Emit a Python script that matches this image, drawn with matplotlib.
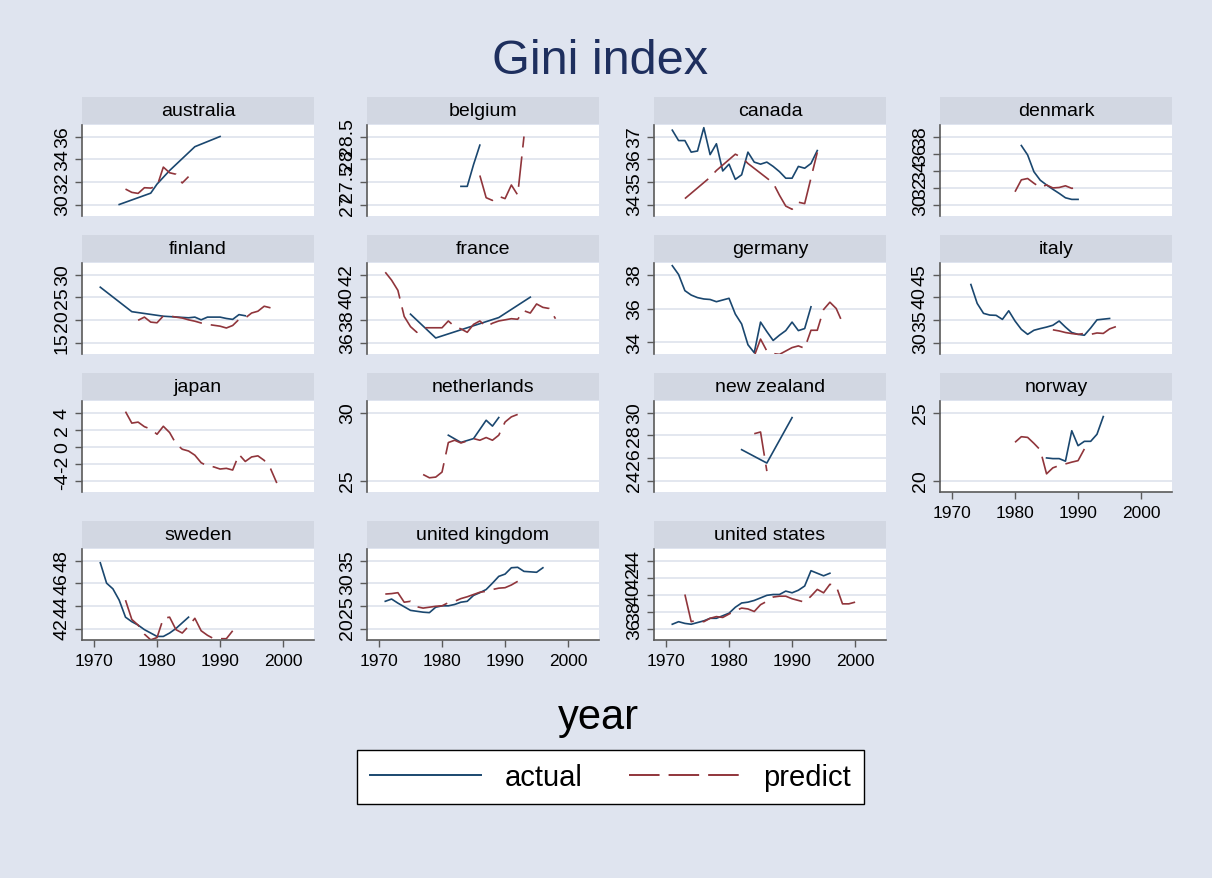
import matplotlib
matplotlib.use('Agg')
import matplotlib.pyplot as plt
from matplotlib.lines import Line2D

plt.rcParams['font.family'] = ['Liberation Sans', 'DejaVu Sans']
plt.rcParams['lines.scale_dashes'] = False

# ---------------- data ----------------
countries = ['australia', 'belgium', 'canada', 'denmark',
             'finland', 'france', 'germany', 'italy',
             'japan', 'netherlands', 'new zealand', 'norway',
             'sweden', 'united kingdom', 'united states']

australia_act_years = [1974, 1979, 1980, 1982, 1986, 1990]
australia_act = [30.0, 31.0, 31.8, 33.0, 35.1, 36.0]
australia_pre_years = [1975, 1976, 1977, 1978, 1979, 1980, 1981, 1982, 1983, 1984, 1985]
australia_pre = [31.36, 31.07, 30.98, 31.48, 31.45, 31.6, 33.3, 32.8, 32.67, 31.9, 32.46]

belgium_act_years = [1983, 1984, 1985, 1986]
belgium_act = [27.4, 27.4, 27.88, 28.31]
belgium_pre_years = [1986, 1987, 1988, 1989, 1990, 1991, 1992, 1993]
belgium_pre = [27.64, 27.15, 27.09, 27.18, 27.13, 27.43, 27.21, 28.5]

canada_act_years = list(range(1971, 1995))
canada_act = [37.28, 36.82, 36.82, 36.31, 36.36, 37.39, 36.2, 36.68, 35.48, 35.78,
              35.11, 35.31, 36.31, 35.87, 35.78, 35.87, 35.68, 35.45, 35.16, 35.16,
              35.68, 35.6, 35.81, 36.38]
canada_pre_years = [1973, 1977, 1978, 1981, 1982, 1983, 1987, 1988, 1989, 1990, 1991, 1992, 1994]
canada_pre = [34.26, 35.2, 35.5, 36.22, 36.08, 35.81, 34.95, 34.41, 33.93, 33.79, 34.1, 34.04, 36.3]

denmark_act_years = list(range(1981, 1991))
denmark_act = [36.94, 35.83, 33.85, 32.86, 32.3, 31.79, 31.31, 30.79, 30.6, 30.6]
denmark_pre_years = list(range(1980, 1991))
denmark_pre = [31.5, 32.9, 33.06, 32.5, 32.0, 32.3, 31.95, 32.0, 32.2, 31.9, 32.0]

finland_act_years = [1971, 1976, 1981, 1985, 1986, 1987, 1988, 1990, 1991, 1992, 1993, 1994]
finland_act = [27.2, 21.8, 20.8, 20.45, 20.6, 20.0, 20.6, 20.6, 20.3, 20.1, 21.15, 20.9]
finland_pre_years = list(range(1977, 1999))
finland_pre = [19.9, 20.6, 19.5, 19.35, 20.86, 20.86, 20.6, 20.4, 20.0, 19.7, 19.3, 19.0,
               18.8, 18.6, 18.2, 18.75, 20.1, 20.4, 21.5, 21.9, 23.0, 22.65]

france_act_years = [1975, 1979, 1989, 1994]
france_act = [38.5, 36.4, 38.2, 40.0]
france_pre_years = list(range(1971, 1999))
france_pre = [42.2, 41.5, 40.6, 38.3, 37.4, 36.9, 37.3, 37.3, 37.3, 37.3, 37.9, 37.4, 37.2,
              36.9, 37.6, 37.9, 37.4, 37.7, 37.9, 38.0, 38.1, 38.05, 38.8, 38.6, 39.4,
              39.1, 39.0, 38.1]

germany_act_years = list(range(1971, 1994))
germany_act = [38.52, 38.0, 37.05, 36.79, 36.64, 36.56, 36.53, 36.4, 36.5, 36.6, 35.67,
               35.09, 33.87, 33.4, 35.2, 34.64, 34.12, 34.43, 34.7, 35.2, 34.7, 34.82, 36.1]
germany_pre_years = list(range(1984, 1999))
germany_pre = [33.2, 34.2, 33.5, 33.35, 33.3, 33.5, 33.7, 33.8, 33.66, 34.72, 34.72,
               35.94, 36.37, 36.0, 35.16]

italy_act_years = list(range(1973, 1994)) + [1995]
italy_act = [42.79, 38.62, 36.43, 36.05, 35.99, 35.1, 37.0, 34.74, 32.9, 31.8, 32.7,
             33.07, 33.4, 33.8, 34.74, 33.4, 32.2, 31.8, 31.6, 33.2, 35.0, 35.3]
italy_pre_years = list(range(1986, 1997))
italy_pre = [32.8, 32.55, 32.2, 31.97, 31.8, 32.0, 31.8, 32.1, 32.0, 33.0, 33.5]

japan_act_years = []
japan_act = []
japan_pre_years = list(range(1975, 2000))
japan_pre = [4.1, 2.75, 2.87, 2.33, 2.05, 1.44, 2.38, 1.64, 0.33, -0.32, -0.53, -1.02,
             -1.91, -2.3, -2.4, -2.65, -2.57, -2.77, -0.93, -1.76, -1.23, -1.1, -1.63,
             -2.6, -4.3]

netherlands_act_years = [1981, 1983, 1985, 1987, 1988, 1989]
netherlands_act = [28.33, 27.8, 28.08, 29.43, 29.0, 29.63]
netherlands_pre_years = list(range(1977, 1993))
netherlands_pre = [25.44, 25.2, 25.25, 25.62, 27.79, 27.96, 27.76, 27.91, 28.08, 27.96,
                   28.16, 27.96, 28.33, 29.3, 29.68, 29.86]

newzealand_act_years = [1982, 1986, 1990]
newzealand_act = [26.72, 25.54, 29.55]
newzealand_pre_years = [1984, 1985, 1986]
newzealand_pre = [28.13, 28.28, 24.83]

norway_act_years = list(range(1985, 1995))
norway_act = [21.66, 21.61, 21.61, 21.42, 23.66, 22.56, 22.88, 22.88, 23.4, 24.7]
norway_pre_years = list(range(1980, 1992))
norway_pre = [22.81, 23.22, 23.17, 22.73, 22.25, 20.49, 20.93, 21.1, 21.22, 21.35, 21.46, 22.32]

sweden_act_years = list(range(1971, 1986))
sweden_act = [47.8, 46.0, 45.5, 44.5, 43.0, 42.6, 42.3, 41.9, 41.6, 41.3, 41.3, 41.6, 42.0,
              42.5, 43.0]
sweden_pre_years = list(range(1975, 1993))
sweden_pre = [44.5, 42.8, 42.3, 41.5, 41.0, 41.2, 42.9, 43.0, 41.9, 41.6, 42.2, 42.9, 41.8,
              41.4, 41.1, 41.1, 41.1, 41.8]

uk_act_years = list(range(1971, 1997))
uk_act = [26.0, 26.5, 25.6, 24.8, 24.0, 23.8, 23.6, 23.5, 24.7, 25.0, 25.0, 25.3, 25.8, 26.0,
          27.3, 27.9, 28.6, 30.0, 31.5, 32.0, 33.4, 33.5, 32.6, 32.5, 32.4, 33.4]
uk_pre_years = list(range(1971, 1993))
uk_pre = [27.6, 27.7, 27.9, 25.8, 26.0, 24.8, 24.5, 24.7, 24.9, 25.0, 25.7, 26.0, 26.6, 27.0,
          27.5, 28.0, 28.2, 28.6, 28.9, 29.0, 29.6, 30.4]

us_act_years = list(range(1971, 1997))
us_act = [36.5, 36.8, 36.6, 36.5, 36.7, 36.9, 37.2, 37.2, 37.5, 37.8, 38.5, 39.0, 39.1, 39.3,
          39.6, 39.9, 40.0, 40.0, 40.4, 40.2, 40.5, 41.0, 42.8, 42.5, 42.2, 42.5]
us_pre_years = list(range(1973, 2001))
us_pre = [40.0, 36.8, 37.0, 36.8, 37.2, 37.4, 37.3, 37.7, 38.1, 38.4, 38.3, 38.0, 38.8, 39.2,
          39.7, 39.8, 39.8, 39.5, 39.3, 39.1, 39.8, 40.6, 40.2, 41.2, 41.0, 38.9, 38.9, 39.1]

act_years = [australia_act_years, belgium_act_years, canada_act_years, denmark_act_years,
             finland_act_years, france_act_years, germany_act_years, italy_act_years,
             japan_act_years, netherlands_act_years, newzealand_act_years, norway_act_years,
             sweden_act_years, uk_act_years, us_act_years]
act_vals = [australia_act, belgium_act, canada_act, denmark_act, finland_act, france_act,
            germany_act, italy_act, japan_act, netherlands_act, newzealand_act, norway_act,
            sweden_act, uk_act, us_act]
pre_years = [australia_pre_years, belgium_pre_years, canada_pre_years, denmark_pre_years,
             finland_pre_years, france_pre_years, germany_pre_years, italy_pre_years,
             japan_pre_years, netherlands_pre_years, newzealand_pre_years, norway_pre_years,
             sweden_pre_years, uk_pre_years, us_pre_years]
pre_vals = [australia_pre, belgium_pre, canada_pre, denmark_pre, finland_pre, france_pre,
            germany_pre, italy_pre, japan_pre, netherlands_pre, newzealand_pre, norway_pre,
            sweden_pre, uk_pre, us_pre]

y_ticks = [[30, 32, 34, 36], [27, 27.5, 28, 28.5], [34, 35, 36, 37], [30, 32, 34, 36, 38],
           [15, 20, 25, 30], [36, 38, 40, 42], [34, 36, 38], [30, 35, 40, 45],
           [-4, -2, 0, 2, 4], [25, 30], [24, 26, 28, 30], [20, 25],
           [42, 44, 46, 48], [20, 25, 30, 35], [36, 38, 40, 42, 44]]
y_ticklabels = [[('%g' % v) for v in t] for t in y_ticks]
x_ticks = [1970, 1980, 1990, 2000]

# ---------------- style ----------------
W, H = 1212, 879
BG = '#dfe4ef'
STRIP = '#d2d7e2'
GRID = '#e1e5ee'
NAVY = '#1a476f'
MAROON = '#90353b'
AXC = '#5a5a5a'

fig = plt.figure(figsize=(W / 100, H / 100), dpi=100)
fig.patch.set_facecolor(BG)

col_left = [82, 367, 654, 940]
row_top = [126, 264, 402, 550]
row_h = [91, 91, 91, 91]
pw, sh = 232, 27
bottom_panels = {11, 12, 13, 14}

for i, name in enumerate(countries):
    r, c = divmod(i, 4)
    L, T, ph = col_left[c], row_top[r], row_h[r]
    ax = fig.add_axes([L / W, 1 - (T + ph) / H, pw / W, ph / H])
    ax.set_facecolor('white')
    sax = fig.add_axes([L / W, 1 - (T - 1) / H, pw / W, sh / H])
    sax.set_facecolor(STRIP)
    sax.set_xticks([]); sax.set_yticks([])
    for s in sax.spines.values():
        s.set_visible(False)
    sax.text(0.5, 0.5, name, ha='center', va='center', fontsize=14, color='black',
             transform=sax.transAxes)

    ticks = y_ticks[i]
    span = ticks[-1] - ticks[0]
    pad = span * 11.5 / (ph - 23.0)
    ax.set_ylim(ticks[0] - pad, ticks[-1] + pad)
    ax.set_xlim(1968.1, 2004.9)
    ax.set_yticks(ticks)
    ax.set_yticklabels(y_ticklabels[i])
    ax.grid(axis='y', color=GRID, lw=1.3)
    ax.set_axisbelow(True)
    for s in ['top', 'right']:
        ax.spines[s].set_visible(False)
    ax.spines['left'].set_color(AXC)
    ax.spines['left'].set_linewidth(1.2)
    ax.tick_params(axis='y', length=5, width=1.0, color=AXC, labelsize=14, pad=3)
    for lbl in ax.get_yticklabels():
        lbl.set_rotation(90)
        lbl.set_va('center')
    if i in bottom_panels:
        ax.spines['bottom'].set_color(AXC)
        ax.spines['bottom'].set_linewidth(1.2)
        ax.set_xticks(x_ticks)
        ax.tick_params(axis='x', length=5, width=1.0, color=AXC, labelsize=12.5, pad=4)
    else:
        ax.spines['bottom'].set_visible(False)
        ax.set_xticks([])

    if act_years[i]:
        ax.plot(act_years[i], act_vals[i], color=NAVY, lw=1.2)
    if pre_years[i]:
        ax.plot(pre_years[i], pre_vals[i], color=MAROON, lw=1.2, dashes=(22, 6.5))

fig.text(0.495, 1 - 62 / H, 'Gini index', ha='center', va='center', fontsize=35, color='#1e2f5e')
fig.text(598 / W, 1 - 718 / H, 'year', ha='center', va='center', fontsize=30, color='black')

handles = [Line2D([], [], color=NAVY, lw=1.4),
           Line2D([], [], color=MAROON, lw=1.4, dashes=(22, 6.5))]
leg = fig.legend(handles, ['actual', 'predict'], loc='center', ncol=2,
                 bbox_to_anchor=(610.5 / W, 1 - 778 / H), fontsize=21,
                 frameon=True, fancybox=False, edgecolor='black', facecolor='white',
                 framealpha=1.0, handlelength=3.8, handletextpad=0.8, columnspacing=1.6,
                 borderpad=0.45)
leg.get_frame().set_linewidth(1.0)

fig.savefig('out.png', dpi=100, facecolor=BG)
